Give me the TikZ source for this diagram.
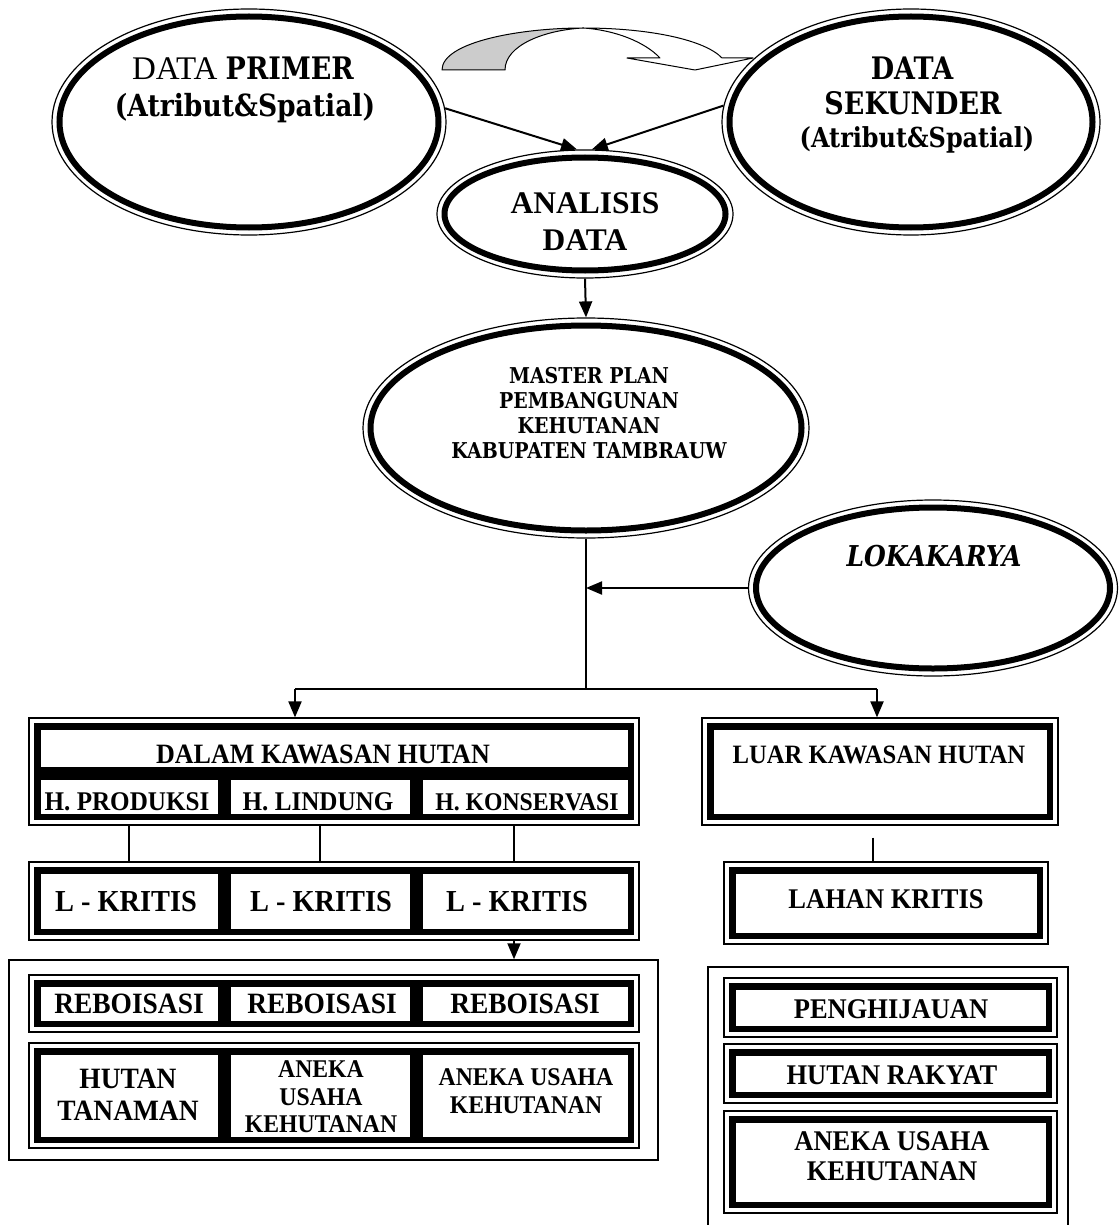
\documentclass[tikz,border=0pt]{standalone}
\usepackage{fontspec}
\setmainfont{Liberation Serif}
\newfontfamily\boxfont[FakeStretch=0.93]{Liberation Serif}
\newfontfamily\slabfont[FakeStretch=0.87]{DejaVu Serif}
\usetikzlibrary{shapes.geometric,arrows.meta,calc}

\tikzset{
  % ellipse with a thin outer line and a heavy inner line
  dell/.style 2 args={ellipse, draw, line width=1.2pt, inner sep=0pt,
    minimum width=#1, minimum height=#2,
    path picture={\draw[line width=6pt] (path picture bounding box.center)
      ellipse [x radius=#1/2-7.5pt, y radius=#2/2-7.5pt];}},
  % thin outer frame of a box or table
  tframe/.style 2 args={rectangle, draw, line width=1.2pt, inner sep=0pt,
    minimum width=#1, minimum height=#2},
  % heavy inner border of a cell (line lies inside the cell bounds)
  tcell/.style 2 args={rectangle, draw, line width=6.5pt, inner sep=0pt,
    minimum width=#1-6.5pt, minimum height=#2-6.5pt},
  plainbox/.style 2 args={rectangle, draw, line width=1.5pt, inner sep=0pt,
    minimum width=#1, minimum height=#2},
  lbl/.style={inner sep=0pt, anchor=base},
  bfs/.style={lbl, font=\boxfont\bfseries\fontsize{#1}{#1}\selectfont},
  slabtxt/.style={lbl, font=\slabfont\bfseries\fontsize{#1}{#1}\selectfont},
  flow/.style={line width=2pt},
  arr/.style={flow, -{Triangle[length=16pt,width=13pt]}},
  thinline/.style={line width=1.2pt},
}

\begin{document}
\begin{tikzpicture}[x=1pt,y=-1pt]
\useasboundingbox (0,0) rectangle (1119,1225);

% ---------- curved ribbon arrow between the two data sources ----------
\filldraw[fill=black!20, line width=1pt, line join=round]
  (442,70) .. controls (442,42) and (520,28) .. (583,28)
  .. controls (545,30) and (505,45) .. (505,70) -- cycle;
\filldraw[fill=white, line width=1pt, line join=round]
  (583,28) .. controls (650,28) and (705,40) .. (722,58)
  -- (753,58) -- (695,70) -- (627,58) -- (660,58)
  .. controls (645,42) and (615,30) .. (583,28) -- cycle;

% ---------- ellipses ----------
\node[dell={394pt}{226pt}] (prim) at (249,122) {};
\node[dell={378pt}{226pt}] (seku) at (911,122) {};
\node[dell={296pt}{128pt}] (anal) at (585,214) {};
\node[dell={446pt}{220pt}] (master) at (586,428) {};
\node[dell={369pt}{176pt}] (loka) at (933,588) {};

\node[lbl] (tprim1) at (243,80)
  {{\fontsize{33}{36}\selectfont DATA }{\slabfont\bfseries\fontsize{31}{31}\selectfont PRIMER}};
\node[slabtxt=30.5] (tprim2) at (245,117) {(Atribut\&Spatial)};
\node[slabtxt=31] (tsek1) at (912,80) {DATA};
\node[slabtxt=31] (tsek2) at (913,115) {SEKUNDER};
\node[slabtxt=27.5] (tsek3) at (917,148) {(Atribut\&Spatial)};
\node[lbl, font=\bfseries\fontsize{31.5}{34}\selectfont] (tan1) at (585,213) {ANALISIS};
\node[lbl, font=\bfseries\fontsize{31.5}{34}\selectfont] (tan2) at (585,250) {DATA};
\node[slabtxt=21.8] (tms1) at (589,383) {MASTER PLAN};
\node[slabtxt=21.8] (tms2) at (589,408) {PEMBANGUNAN};
\node[slabtxt=21.8] (tms3) at (589,433) {KEHUTANAN};
\node[slabtxt=21.8] (tms4) at (589,458) {KABUPATEN TAMBRAUW};
\node[lbl, font=\slabfont\bfseries\itshape\fontsize{28.7}{29}\selectfont] (tlok) at (934,566) {LOKAKARYA};

% ---------- left column: inside the forest area ----------
\node[tframe={610pt}{107pt}] (dalam) at (334,771.5) {};
\node[tcell={600pt}{50pt}] (dk) at (334,748) {};
\node[tcell={190pt}{47pt}] (hp) at (129,796.5) {};
\node[tcell={192pt}{47pt}] (hl) at (320,796.5) {};
\node[tcell={218pt}{47pt}] (hk) at (525,796.5) {};
\node[bfs=28] (tdk) at (323,763) {DALAM KAWASAN HUTAN};
\node[bfs=27] (thp) at (127,810) {H. PRODUKSI};
\node[bfs=27] (thl) at (318,810) {H. LINDUNG};
\node[bfs=25.5] (thk) at (527,810) {H. KONSERVASI};

\node[tframe={610pt}{78pt}] (lkf) at (334,901) {};
\node[tcell={190pt}{68pt}] (lk1) at (129,901) {};
\node[tcell={192pt}{68pt}] (lk2) at (320,901) {};
\node[tcell={218pt}{68pt}] (lk3) at (525,901) {};
\node[bfs=30.5] (tlk1) at (126,911) {L - KRITIS};
\node[bfs=30.5] (tlk2) at (321,911) {L - KRITIS};
\node[bfs=30.5] (tlk3) at (517,911) {L - KRITIS};

\node[plainbox={649pt}{200pt}] (outl) at (333.5,1060) {};

\node[tframe={610pt}{57pt}] (rbf) at (334,1003.5) {};
\node[tcell={190pt}{47pt}] (rb1) at (129,1003.5) {};
\node[tcell={192pt}{47pt}] (rb2) at (320,1003.5) {};
\node[tcell={218pt}{47pt}] (rb3) at (525,1003.5) {};
\node[bfs=29.5] (trb1) at (129,1013.5) {REBOISASI};
\node[bfs=29.5] (trb2) at (322,1013.5) {REBOISASI};
\node[bfs=29.5] (trb3) at (525,1013.5) {REBOISASI};

\node[tframe={610pt}{105pt}] (htf) at (334,1095.5) {};
\node[tcell={190pt}{95pt}] (ht1) at (129,1095.5) {};
\node[tcell={192pt}{95pt}] (ht2) at (320,1095.5) {};
\node[tcell={218pt}{95pt}] (ht3) at (525,1095.5) {};
\node[bfs=29.5] (tht1a) at (128,1088) {HUTAN};
\node[bfs=29.5] (tht1b) at (128,1120) {TANAMAN};
\node[bfs=25.5] (tht2a) at (321,1077) {ANEKA};
\node[bfs=25.5] (tht2b) at (321,1105) {USAHA};
\node[bfs=25.5] (tht2c) at (321,1132) {KEHUTANAN};
\node[bfs=25.5] (tht3a) at (526,1085) {ANEKA USAHA};
\node[bfs=25.5] (tht3b) at (526,1113) {KEHUTANAN};

% ---------- right column: outside the forest area ----------
\node[tframe={356pt}{107pt}] (luarf) at (880,771.5) {};
\node[tcell={346pt}{97pt}] (luar) at (880,771.5) {};
\node[bfs=26.5] (tluar) at (879,763) {LUAR KAWASAN HUTAN};

\node[tframe={324pt}{82pt}] (lahanf) at (886,903) {};
\node[tcell={314pt}{72pt}] (lahan) at (886,903) {};
\node[bfs=28.5] (tlahan) at (886,908) {LAHAN KRITIS};

\node[plainbox={360pt}{273pt}] (outr) at (888,1103.5) {};

\node[tframe={333pt}{59pt}] (pengf) at (890.5,1007.5) {};
\node[tcell={323pt}{49pt}] (peng) at (890.5,1007.5) {};
\node[bfs=28.5] (tpeng) at (891,1018) {PENGHIJAUAN};

\node[tframe={333pt}{59pt}] (hrf) at (890.5,1073.5) {};
\node[tcell={323pt}{49pt}] (hr) at (890.5,1073.5) {};
\node[bfs=28.5] (thr) at (892,1084) {HUTAN RAKYAT};

\node[tframe={333pt}{102pt}] (anekf) at (890.5,1162) {};
\node[tcell={323pt}{92pt}] (anek) at (890.5,1162) {};
\node[bfs=28.5] (tanek1) at (892,1150) {ANEKA USAHA};
\node[bfs=28.5] (tanek2) at (892,1180) {KEHUTANAN};

% ---------- connectors ----------
\draw[arr] (prim.4.4) -- (anal.97);
\draw[arr] (seku.175.3) -- (anal.84);
\draw[arr] (anal.south) -- (master.north);

\coordinate (split) at (586,689);
\coordinate (lt) at (295,689);
\coordinate (rt) at (877,689);
\draw[flow] (master.south) -- (split);
\draw[arr] (loka.west) -- (loka.west -| split);
\draw[flow] (lt) -- (rt);
\draw[arr] (lt) -- (lt |- dalam.north);
\draw[arr] (rt) -- (rt |- luarf.north);

\draw[thinline] (dalam.south -| hp) -- (lkf.north -| hp);
\draw[thinline] (dalam.south -| hl) -- (lkf.north -| hl);
\coordinate (c3) at ($(hk.center)+(-11,0)$);
\draw[thinline] (dalam.south -| c3) -- (lkf.north -| c3);
\draw[arr] (lkf.south -| c3) -- (outl.north -| c3);

\coordinate (lx) at ($(luarf.south)+(-7,12)$);
\draw[thinline] (lx) -- (lx |- lahanf.north);
\end{tikzpicture}
\end{document}
